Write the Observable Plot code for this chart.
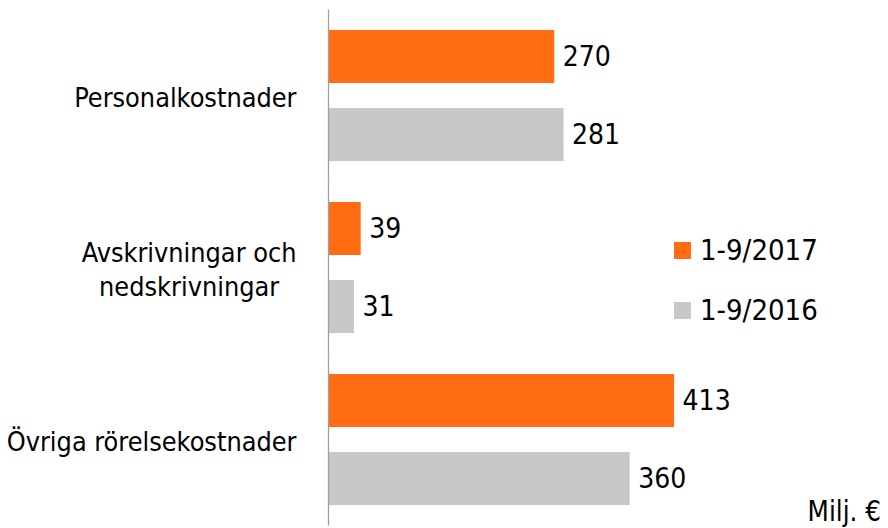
<!DOCTYPE html>
<html><head><meta charset="utf-8">
<script src="https://cdn.jsdelivr.net/npm/d3@7"></script>
<script src="https://cdn.jsdelivr.net/npm/@observablehq/plot@0.6"></script>
<style>
body{margin:0;background:#fff;}
#wrap{position:relative;width:888px;height:528px;font-family:"DejaVu Sans Condensed","DejaVu Sans",sans-serif;font-stretch:condensed;color:#000;}
#legend{position:absolute;left:674px;top:233px;}
.item{display:flex;align-items:center;height:34px;margin-bottom:26px;font-size:29px;line-height:1;}
.sw{width:17px;height:17px;margin-right:9px;}
#unit{position:absolute;right:7px;bottom:3px;font-size:27.5px;line-height:1;}
</style></head><body><div id="wrap"></div>
<script>
const categories = ["Personalkostnader", "Avskrivningar och\nnedskrivningar", "Övriga rörelsekostnader"];
const series = ["1-9/2017", "1-9/2016"];
const values2017 = [270, 39, 413];
const values2016 = [281, 31, 360];
const seriesColors = ["#FF6C12", "#C8C8C8"];
const unitLabel = "Milj. €";

const data = categories.flatMap((c, i) => [
  {category: c, series: series[0], value: values2017[i]},
  {category: c, series: series[1], value: values2016[i]}
]);

const chart = Plot.plot({
  width: 888, height: 528,
  marginLeft: 328, marginRight: 141, marginTop: 9.5, marginBottom: 2.5,
  style: {fontFamily: '"DejaVu Sans Condensed","DejaVu Sans",sans-serif', fontSize: "26px", color: "#000", background: "#fff", fontStretch: "condensed"},
  x: {domain: [0, 500], axis: null},
  y: {domain: series, paddingInner: 0.32, paddingOuter: 0.2625, axis: null, round: false},
  fy: {domain: categories, padding: 0, label: null, axis: null, round: false},
  color: {domain: series, range: seriesColors},
  marks: [
    Plot.barX(data, {fy: "category", y: "series", x: "value", fill: "series"}),
    Plot.text(data, {fy: "category", y: "series", x: "value", text: d => String(d.value), textAnchor: "start", dx: 8, fontSize: 28, fill: "#000"}),
    Plot.ruleX([0], {stroke: "#A0A0A0", strokeWidth: 1.3}),
    Plot.axisFy({anchor: "left", tickSize: 0, tickPadding: 32, fontSize: 26.8, lineHeight: 1.28, label: null, fill: "#000"})
  ]
});
const wrap = document.getElementById("wrap");
wrap.appendChild(chart);

// center lines of multi-line category labels within their block (right-aligned block)
chart.querySelectorAll("text").forEach(t => {
  const spans = t.querySelectorAll("tspan");
  if (spans.length > 1) {
    let w = 0;
    spans.forEach(s => { w = Math.max(w, s.getComputedTextLength()); });
    t.setAttribute("text-anchor", "middle");
    spans.forEach(s => s.setAttribute("x", -w / 2));
  }
});

const legend = document.createElement("div");
legend.id = "legend";
series.forEach((s, i) => {
  const item = document.createElement("div");
  item.className = "item";
  const sw = document.createElement("div");
  sw.className = "sw";
  sw.style.background = seriesColors[i];
  const lab = document.createElement("span");
  lab.textContent = s;
  item.appendChild(sw); item.appendChild(lab);
  legend.appendChild(item);
});
wrap.appendChild(legend);
const unit = document.createElement("div");
unit.id = "unit";
unit.textContent = unitLabel;
wrap.appendChild(unit);
</script></body></html>
